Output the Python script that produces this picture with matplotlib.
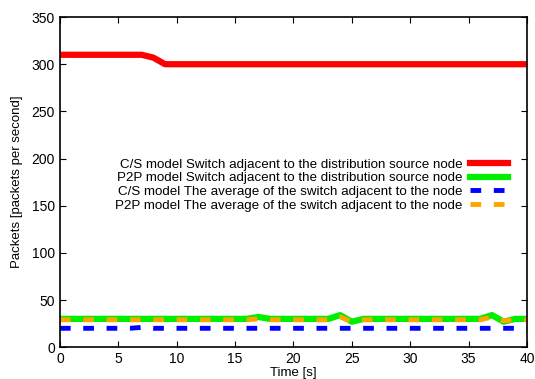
import matplotlib
matplotlib.use('Agg')
import matplotlib.pyplot as plt

plt.rcParams['font.family'] = ['Liberation Sans', 'DejaVu Sans']

time_s = list(range(0, 41))
cs_switch = [310, 310, 310, 310, 310, 310, 310, 310, 307, 300,
             300, 300, 300, 300, 300, 300, 300, 300, 300, 300,
             300, 300, 300, 300, 300, 300, 300, 300, 300, 300,
             300, 300, 300, 300, 300, 300, 300, 300, 300, 300, 300]
p2p_switch = [30, 30, 30, 30, 30, 30, 30, 30, 30, 30,
              30, 30, 30, 30, 30, 30, 30, 32, 30, 30,
              30, 30, 30, 30, 34, 27, 30, 30, 30, 30,
              30, 30, 30, 30, 30, 30, 30, 34, 27, 30, 30]
cs_avg = [20, 20, 20, 20, 20, 20, 20, 21, 20, 20,
          20, 20, 20, 20, 20, 20, 20, 20, 20, 20,
          20, 20, 20, 20, 20, 20, 20, 20, 20, 20,
          20, 20, 20, 20, 20, 20, 20, 20, 20, 20, 20]
p2p_avg = [29, 29, 29, 29, 29, 29, 29, 29, 29, 29,
           29, 29, 29, 29, 29, 29, 29, 30, 29, 29,
           29, 29, 29, 29, 32, 27, 29, 29, 29, 29,
           29, 29, 29, 29, 29, 29, 29, 32, 28, 29, 29]

labels = ['C/S model Switch adjacent to the distribution source node',
          'P2P model Switch adjacent to the distribution source node',
          'C/S model The average of the switch adjacent to the node',
          'P2P model The average of the switch adjacent to the node']

fig = plt.figure(figsize=(5.35, 3.79), dpi=100)
ax = fig.add_axes([0.112, 0.084, 0.873, 0.871])

ax.plot(time_s, cs_switch, color='#ff0000', lw=4.5, label=labels[0])
ax.plot(time_s, p2p_switch, color='#00ee00', lw=4.5, label=labels[1])
ax.plot(time_s, cs_avg, color='#0000ff', lw=3.5, dashes=(2.2, 2.6), label=labels[2])
ax.plot(time_s, p2p_avg, color='#ffa500', lw=3.5, dashes=(2.2, 2.6), label=labels[3])

ax.set_xlim(0, 40)
ax.set_ylim(0, 350)
ax.set_xticks(range(0, 41, 5))
ax.set_yticks(range(0, 351, 50))
ax.tick_params(direction='in', top=True, right=True, labelsize=10, length=4, width=0.8)
ax.set_xlabel('Time [s]', fontsize=9.5, labelpad=1)
ax.set_ylabel('Packets [packets per second]', fontsize=9.5, labelpad=6)
for s in ax.spines.values():
    s.set_linewidth(1.2)

leg = ax.legend(loc='upper right', bbox_to_anchor=(0.97, 0.588), markerfirst=False,
                frameon=False, fontsize=9.6, handlelength=2.8, handletextpad=0.6,
                labelspacing=0.1, borderaxespad=0)
for t in leg.get_texts():
    t.set_ha('right')

fig.savefig('out.png', dpi=100)
